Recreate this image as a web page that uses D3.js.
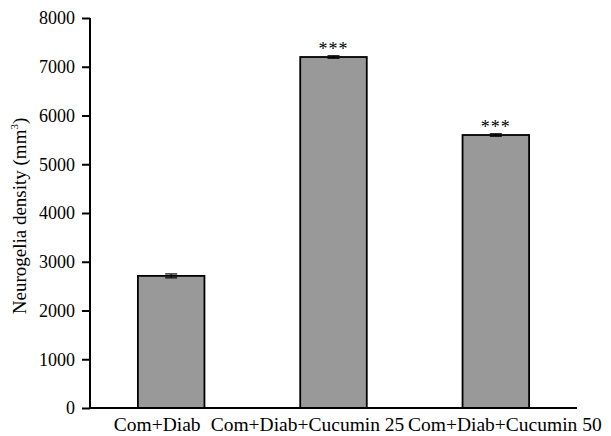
<!DOCTYPE html>
<html>
<head>
<meta charset="utf-8">
<script src="https://cdn.jsdelivr.net/npm/d3@7"></script>
<style>
  body { margin: 0; background: #fff; }
  svg text { font-family: "Liberation Serif", "Times New Roman", serif; fill: #000; }
</style>
</head>
<body>
<svg width="611" height="436"></svg>
<script>
// data
const groups = ['Com+Diab', 'Com+Diab+Cucumin 25', 'Com+Diab+Cucumin 50'];
const density = [2710, 7200, 5600];
const errors = [40, 25, 25];
const signif = ['', '***', '***'];
const yTicks = [0, 1000, 2000, 3000, 4000, 5000, 6000, 7000, 8000];

// the category labels in the original sit a bit off their bars
const labelShift = [-14, -26, 9];

const svg = d3.select('svg');
const margin = {left: 90, right: 34, top: 18, bottom: 28};
const width = 611 - margin.left - margin.right;
const height = 436 - margin.top - margin.bottom;

const g = svg.append('g')
    .attr('transform', `translate(${margin.left},${margin.top})`);

const x = d3.scaleBand()
    .domain(groups)
    .range([0, width])
    .paddingInner(0.59)
    .paddingOuter(0.295);

const y = d3.scaleLinear()
    .domain([0, 8000])
    .range([height, 0]);

// bars
g.selectAll('.bar')
    .data(groups)
    .enter()
    .append('rect')
    .classed('bar', true)
    .attr('x', (d) => x(d))
    .attr('y', (d, i) => y(density[i]))
    .attr('width', x.bandwidth())
    .attr('height', (d, i) => height - y(density[i]))
    .style('fill', '#999999')
    .style('stroke', '#000')
    .style('stroke-width', 1.8);

// error bars
const cap = 6;
const err = g.selectAll('.err')
    .data(groups)
    .enter()
    .append('g')
    .classed('err', true);

err.append('line')
    .attr('x1', (d) => x(d) + x.bandwidth() / 2)
    .attr('x2', (d) => x(d) + x.bandwidth() / 2)
    .attr('y1', (d, i) => y(density[i] + errors[i]))
    .attr('y2', (d, i) => y(density[i] - errors[i]))
    .style('stroke', '#000')
    .style('stroke-width', 1);

err.selectAll('.cap')
    .data((d, i) => [density[i] + errors[i], density[i] - errors[i]].map((v) => ({d, v})))
    .enter()
    .append('line')
    .attr('x1', (c) => x(c.d) + x.bandwidth() / 2 - cap)
    .attr('x2', (c) => x(c.d) + x.bandwidth() / 2 + cap)
    .attr('y1', (c) => y(c.v))
    .attr('y2', (c) => y(c.v))
    .style('stroke', '#000')
    .style('stroke-width', 1.2);

// significance stars
g.selectAll('.star')
    .data(groups)
    .enter()
    .append('text')
    .classed('star', true)
    .attr('x', (d) => x(d) + x.bandwidth() / 2)
    .attr('y', (d, i) => y(density[i] + errors[i]) - 1)
    .attr('text-anchor', 'middle')
    .style('font-size', '18px')
    .style('letter-spacing', '1px')
    .text((d, i) => signif[i]);

// axes
const yAxis = g.append('g')
    .call(d3.axisLeft(y).tickValues(yTicks).tickSize(8).tickPadding(7).tickFormat(d3.format('d')));
const xAxis = g.append('g')
    .attr('transform', `translate(0,${height})`)
    .call(d3.axisBottom(x).tickSize(0).tickPadding(9));

[yAxis, xAxis].forEach((a) => {
  a.selectAll('path, line').style('stroke', '#000').style('stroke-width', 2);
  a.selectAll('text')
      .style('font-family', '"Liberation Serif", "Times New Roman", serif');
});
yAxis.selectAll('text').style('font-size', '18px');
xAxis.selectAll('text')
    .style('font-size', '19.5px')
    .attr('dx', (d, i) => labelShift[i]);
yAxis.select('.domain').attr('d', `M0,${height}V0`);
xAxis.select('.domain').attr('d', `M0,0H${width}`);

// y label
svg.append('text')
    .attr('transform', `translate(26,216) rotate(-90)`)
    .attr('text-anchor', 'middle')
    .style('font-size', '19px')
    .html('Neurogelia density (mm<tspan dy="-8" font-size="11px">3</tspan><tspan dy="8">)</tspan>');
</script>
</body>
</html>
